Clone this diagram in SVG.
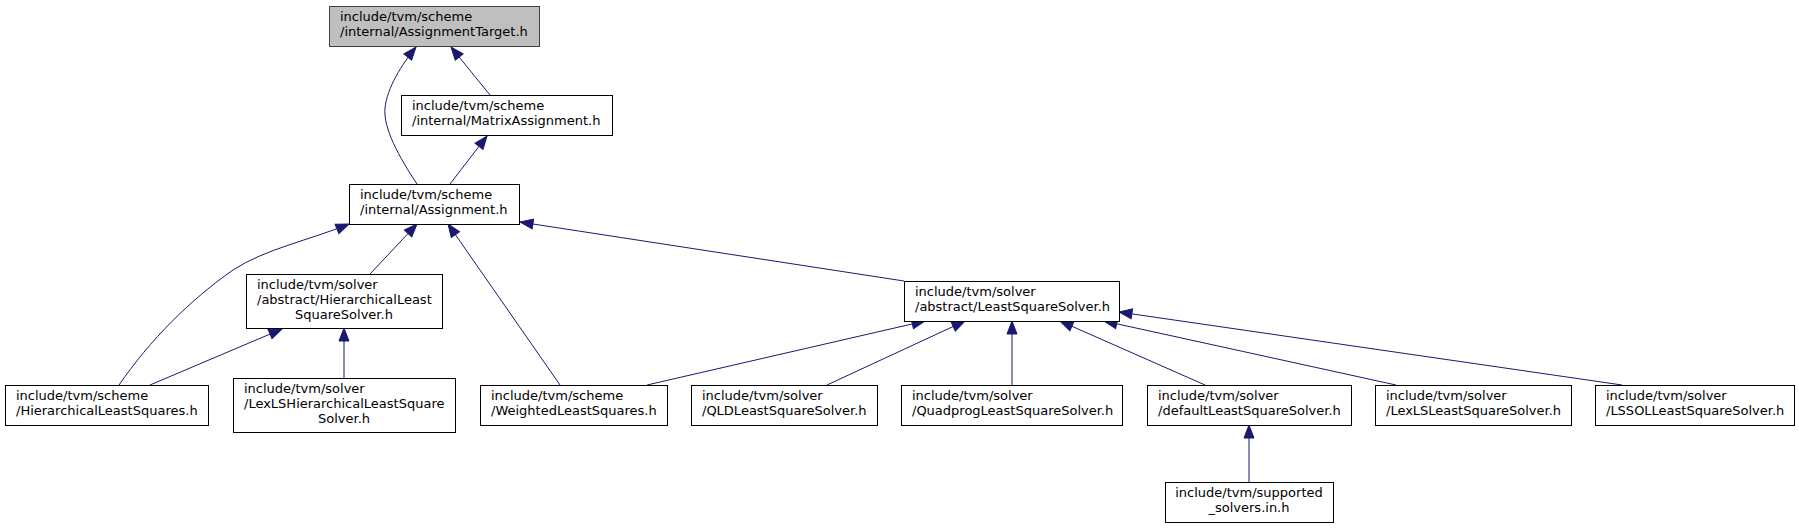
<svg xmlns="http://www.w3.org/2000/svg" width="1799" height="528" viewBox="0 0 1799 528">
<style>
.node rect{fill:#ffffff;stroke:#000000;stroke-width:1}
.root rect{fill:#bfbfbf;stroke:#404040;stroke-width:1}
text{font-family:"DejaVu Sans",Verdana,sans-serif;font-size:13px;fill:#000000}
.c{text-anchor:middle}
.edges path{fill:none;stroke:#191970;stroke-width:1;marker-end:url(#ah)}
</style>
<defs>
<marker id="ah" markerUnits="userSpaceOnUse" viewBox="0 0 13 10" refX="13" refY="5" markerWidth="13" markerHeight="10" orient="auto" overflow="visible">
<path d="M0,0 L13,5 L0,10 z" fill="#191970" stroke="#191970" stroke-width="1"/>
</marker>
</defs>
<rect x="0" y="0" width="1799" height="528" fill="#ffffff"/>
<g class="edges" id="edges">
<path d="M417,184 C399,157 383,128 385,108 C387,88 402,64 416,47"/>
<path d="M490,95 L451,47"/>
<path d="M450,184 L487,136"/>
<path d="M119,385 C150,340 190,300 233,270 C265,249 310,240 349,224"/>
<path d="M370,274 L417,224"/>
<path d="M560,385 L448,224"/>
<path d="M904,281 L520,222"/>
<path d="M150,385 L282,329"/>
<path d="M344,378 L344,328"/>
<path d="M647,385 L925,321"/>
<path d="M827,385 L965,321"/>
<path d="M1012,385 L1012,321"/>
<path d="M1205,385 L1060,321"/>
<path d="M1396,385 L1104,321"/>
<path d="M1622,385 L1119,312"/>
<path d="M1249,482 L1249,425"/>
</g>
<g id="n_AssignmentTarget" class="root">
<rect x="329.5" y="6.5" width="210" height="40"/>
<text x="340" y="21">include/tvm/scheme</text>
<text x="340" y="36">/internal/AssignmentTarget.h</text>
</g>
<g id="n_MatrixAssignment" class="node">
<rect x="401.5" y="95.5" width="211" height="40"/>
<text x="412" y="110">include/tvm/scheme</text>
<text x="412" y="125">/internal/MatrixAssignment.h</text>
</g>
<g id="n_Assignment" class="node">
<rect x="349.5" y="184.5" width="170" height="40"/>
<text x="360" y="199">include/tvm/scheme</text>
<text x="360" y="214">/internal/Assignment.h</text>
</g>
<g id="n_HierarchicalLeastSquareSolver" class="node">
<rect x="246.5" y="274.5" width="196" height="54"/>
<text x="257" y="289">include/tvm/solver</text>
<text x="257" y="304">/abstract/HierarchicalLeast</text>
<text x="344" y="319" class="c">SquareSolver.h</text>
</g>
<g id="n_LeastSquareSolver" class="node">
<rect x="904.5" y="281.5" width="215" height="40"/>
<text x="915" y="296">include/tvm/solver</text>
<text x="915" y="311">/abstract/LeastSquareSolver.h</text>
</g>
<g id="n_HierarchicalLeastSquares" class="node">
<rect x="5.5" y="385.5" width="203" height="40"/>
<text x="16" y="400">include/tvm/scheme</text>
<text x="16" y="415">/HierarchicalLeastSquares.h</text>
</g>
<g id="n_LexLSHierarchicalLeastSquareSolver" class="node">
<rect x="233.5" y="378.5" width="222" height="54"/>
<text x="244" y="393">include/tvm/solver</text>
<text x="244" y="408">/LexLSHierarchicalLeastSquare</text>
<text x="344" y="423" class="c">Solver.h</text>
</g>
<g id="n_WeightedLeastSquares" class="node">
<rect x="480.5" y="385.5" width="187" height="40"/>
<text x="491" y="400">include/tvm/scheme</text>
<text x="491" y="415">/WeightedLeastSquares.h</text>
</g>
<g id="n_QLDLeastSquareSolver" class="node">
<rect x="691.5" y="385.5" width="186" height="40"/>
<text x="702" y="400">include/tvm/solver</text>
<text x="702" y="415">/QLDLeastSquareSolver.h</text>
</g>
<g id="n_QuadprogLeastSquareSolver" class="node">
<rect x="901.5" y="385.5" width="221" height="40"/>
<text x="912" y="400">include/tvm/solver</text>
<text x="912" y="415">/QuadprogLeastSquareSolver.h</text>
</g>
<g id="n_defaultLeastSquareSolver" class="node">
<rect x="1147.5" y="385.5" width="204" height="40"/>
<text x="1158" y="400">include/tvm/solver</text>
<text x="1158" y="415">/defaultLeastSquareSolver.h</text>
</g>
<g id="n_LexLSLeastSquareSolver" class="node">
<rect x="1375.5" y="385.5" width="196" height="40"/>
<text x="1386" y="400">include/tvm/solver</text>
<text x="1386" y="415">/LexLSLeastSquareSolver.h</text>
</g>
<g id="n_LSSOLLeastSquareSolver" class="node">
<rect x="1595.5" y="385.5" width="199" height="40"/>
<text x="1606" y="400">include/tvm/solver</text>
<text x="1606" y="415">/LSSOLLeastSquareSolver.h</text>
</g>
<g id="n_supported_solvers" class="node">
<rect x="1165.5" y="482.5" width="168" height="40"/>
<text x="1249" y="497" class="c">include/tvm/supported</text>
<text x="1249" y="512" class="c">_solvers.in.h</text>
</g>
</svg>
